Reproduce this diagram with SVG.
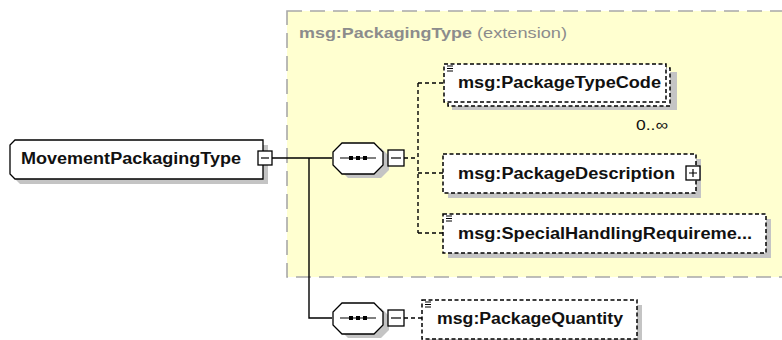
<svg xmlns="http://www.w3.org/2000/svg" width="782" height="340" viewBox="0 0 782 340">
<defs>
<style>
.lbl{font-family:"Liberation Sans",Arial,sans-serif;font-weight:bold;font-size:16px;fill:#111}
.shadow{fill:#c4c4c4}
.box{fill:#fff;stroke:#000;stroke-width:1.3}
.dbox{fill:#fff;stroke:#000;stroke-width:1.5;stroke-dasharray:4,2.5}
.solid{fill:none;stroke:#000;stroke-width:1.4}
.dash{fill:none;stroke:#000;stroke-width:1.4;stroke-dasharray:4,3}
.btn{fill:#fff;stroke:#000;stroke-width:1.3}
.icon{stroke:#000;stroke-width:1.2}
</style>
</defs>
<rect x="0" y="0" width="782" height="340" fill="#fff"/>

<g id="extension">
<rect x="287" y="11" width="500" height="266" fill="#ffffd0" stroke="#a8a8a8" stroke-width="1.6" stroke-dasharray="15,8"/>
<text x="299" y="38" style="font-family:'Liberation Sans',Arial,sans-serif;font-size:15px;fill:#8c8c8c"><tspan font-weight="bold" textLength="173" lengthAdjust="spacingAndGlyphs">msg:PackagingType</tspan><tspan dx="5" textLength="90" lengthAdjust="spacingAndGlyphs">(extension)</tspan></text>
</g>

<g id="connectors">
<path class="solid" d="M272,158 H332 M309,158 V318 H332"/>
<path class="dash" d="M404,158 H418 M418,83 V233 M418,83 H444 M418,173 H443 M418,233 H443 M404,318 H422"/>
</g>

<g id="MovementPackagingType">
<polygon class="shadow" points="20,145 268,145 268,184 20,184 15,179 15,150"/>
<polygon class="box" points="15,140 263,140 263,179 15,179 10,174 10,145"/>
<text class="lbl" x="21" y="164" textLength="220" lengthAdjust="spacingAndGlyphs">MovementPackagingType</text>
<rect class="btn" x="258" y="151" width="14" height="14"/>
<path class="icon" d="M261,158 H269"/>
</g>

<g id="sequence1">
<polygon class="shadow" points="348,148 381,148 389,156 389,170 381,178 348,178 340,170 340,156"/>
<polygon class="box" points="342,143 374,143 383,152 383,165 374,174 342,174 333,165 333,152"/>
<path class="icon" d="M340,158 H376"/>
<rect x="349" y="156" width="4" height="4"/><rect x="356" y="156" width="4" height="4"/><rect x="363" y="156" width="4" height="4"/>
<rect class="btn" x="388" y="150" width="16" height="16"/>
<path class="icon" d="M391,158 H401"/>
</g>

<g id="PackageTypeCode">
<rect class="shadow" x="452" y="72" width="225" height="38"/>
<rect class="dbox" x="448" y="68" width="222" height="38"/>
<rect class="dbox" x="444" y="64" width="222" height="38"/>
<path class="icon" d="M447,66 H453 M447,68.5 H453 M447,71 H453"/>
<text class="lbl" x="458" y="88" textLength="203" lengthAdjust="spacingAndGlyphs">msg:PackageTypeCode</text>
<text x="636" y="130" textLength="32" lengthAdjust="spacingAndGlyphs" style="font-family:'Liberation Sans',Arial,sans-serif;font-size:15px;fill:#111">0..∞</text>
</g>

<g id="PackageDescription">
<rect class="shadow" x="448" y="159" width="253" height="39"/>
<rect class="dbox" x="443" y="154" width="253" height="39"/>
<text class="lbl" x="458" y="179" textLength="217" lengthAdjust="spacingAndGlyphs">msg:PackageDescription</text>
<rect class="btn" x="686" y="166" width="14" height="14"/>
<path class="icon" d="M689,173 H697 M693,169 V177"/>
</g>

<g id="SpecialHandlingRequirement">
<rect class="shadow" x="448" y="219" width="323" height="39"/>
<rect class="dbox" x="443" y="214" width="323" height="39"/>
<path class="icon" d="M446,216 H452 M446,218.5 H452 M446,221 H452"/>
<text class="lbl" x="458" y="239" textLength="294" lengthAdjust="spacingAndGlyphs">msg:SpecialHandlingRequireme...</text>
</g>

<g id="sequence2">
<polygon class="shadow" points="348,308 381,308 389,316 389,330 381,338 348,338 340,330 340,316"/>
<polygon class="box" points="342,303 374,303 383,312 383,325 374,334 342,334 333,325 333,312"/>
<path class="icon" d="M340,318 H376"/>
<rect x="349" y="316" width="4" height="4"/><rect x="356" y="316" width="4" height="4"/><rect x="363" y="316" width="4" height="4"/>
<rect class="btn" x="388" y="310" width="16" height="16"/>
<path class="icon" d="M391,318 H401"/>
</g>

<g id="PackageQuantity">
<rect class="shadow" x="427" y="305" width="215" height="39"/>
<rect class="dbox" x="422" y="300" width="215" height="39"/>
<path class="icon" d="M425,302 H431 M425,304.5 H431 M425,307 H431"/>
<text class="lbl" x="437" y="324" textLength="186" lengthAdjust="spacingAndGlyphs">msg:PackageQuantity</text>
</g>
</svg>
